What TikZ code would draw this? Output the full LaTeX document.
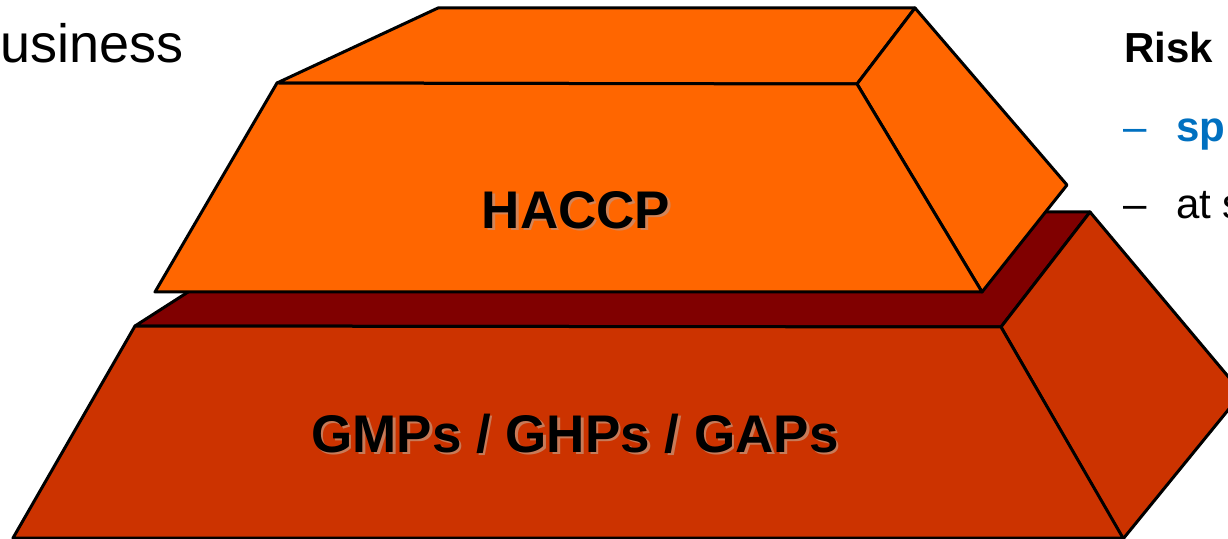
\documentclass[tikz,border=0pt]{standalone}
\usepackage{fontspec}
\setmainfont{Liberation Sans}
\usepackage{tikz}
\usepackage{xcolor}

\definecolor{haccporange}{HTML}{FF6600}
\definecolor{baseorange}{HTML}{CC3300}
\definecolor{basetop}{HTML}{800000}
\definecolor{riskblue}{HTML}{0070C0}
\definecolor{textshadow}{RGB}{200,140,110}

\tikzset{
    face/.style={draw=black, line width=3bp, line join=round},
    layertext/.style={font=\fontsize{53bp}{60bp}\selectfont\bfseries, inner sep=0pt},
    bullettext/.style={anchor=base west, inner sep=0pt, font=\fontsize{42bp}{48bp}\selectfont}
}

\begin{document}
\begin{tikzpicture}[x=1bp, y=-1bp]
    \useasboundingbox (0,0) rectangle (1228,539);
    \clip (0,0) rectangle (1228,539);

    % Base block
    \draw[face, fill=basetop] (135,326) -- (313,212) -- (1090,212) -- (1001,327) -- cycle;
    \draw[face, fill=baseorange] (1001,327) -- (1090,212) -- (1242,393) -- (1123,539) -- cycle;
    \draw[face, fill=baseorange] (135,326) -- (1001,327) -- (1123,538) -- (13,538) -- cycle;

    % HACCP block
    \draw[face, fill=haccporange] (277,83) -- (438,8) -- (915,8) -- (857,84) -- cycle;
    \draw[face, fill=haccporange] (857,84) -- (915,8) -- (1067,185) -- (982,292) -- cycle;
    \draw[face, fill=haccporange] (277,83) -- (857,84) -- (982,292) -- (155,292) -- cycle;

    % Layer labels
    \node[layertext, text=textshadow, opacity=0.8] at (578.5,212.5) {HACCP};
    \node[layertext] (haccp) at (576,210) {HACCP};
    \node[layertext, anchor=base, text=textshadow, opacity=0.8] at (577.5,454.5) {GMPs / GHPs / GAPs};
    \node[layertext, anchor=base] (gmps) at (575,452) {GMPs / GHPs / GAPs};

    % Slide text around the picture
    \node[bullettext, font=\fontsize{54bp}{60bp}\selectfont] (business) at (0,63) {usiness};
    \node[bullettext, font=\fontsize{42bp}{48bp}\selectfont\bfseries] (risk) at (1124,63) {Risk};
    \node[bullettext, text=riskblue] (dashone) at (1123,142) {–};
    \node[bullettext, text=riskblue, font=\fontsize{42bp}{48bp}\selectfont\bfseries] (specific) at (1176,142) {sp};
    \node[bullettext] (dashtwo) at (1123,219) {–};
    \node[bullettext] (atstage) at (1176,219) {at s};
\end{tikzpicture}
\end{document}
